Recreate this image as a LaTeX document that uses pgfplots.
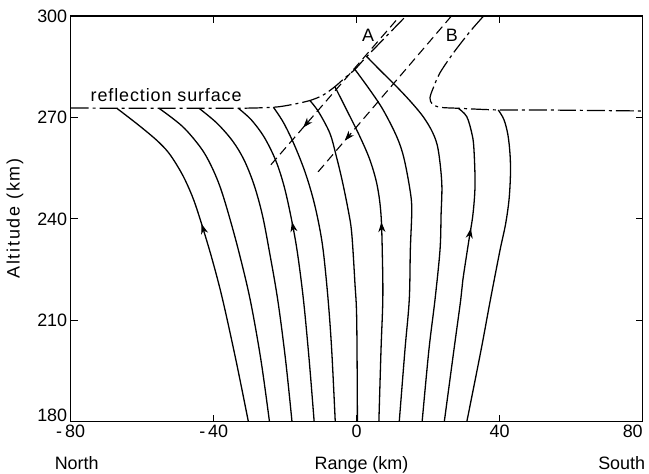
\documentclass[border=0pt]{standalone}
\usepackage{fontspec}
\setmainfont{Liberation Sans}
\usepackage{pgfplots}
\pgfplotsset{compat=1.18}
\usetikzlibrary{decorations.markings,arrows.meta}
\begin{document}
\begin{tikzpicture}[x=1bp,y=1bp]
\useasboundingbox (0,0) rectangle (649,474);
\begin{axis}[
  at={(70.7bp,52.3bp)}, anchor=south west,
  scale only axis, width=572bp, height=405.7bp,
  xmin=-80, xmax=80, ymin=180, ymax=300,
  xtick={-80,-40,0,40,80},
  xticklabels={-\,80,-\,40,0,40,\makebox[0pt][r]{80}},
  ytick={180,210,240,270,300},
  yticklabels={\raisebox{0pt}[0pt][0pt]{180},210,240,270,300},
  tick align=inside,
  major tick length=7bp,
  every tick/.style={black, line width=1.1bp},
  axis line style={line width=1.3bp},
  tick label style={font=\fontsize{18}{20}\selectfont},
  /pgf/number format/assume math mode=true,
  ray/.style={black, line width=1.3bp, smooth, tension=0.55},
  arr/.style={postaction={decorate}, decoration={markings, mark=at position #1 with {\arrowreversed{Stealth[length=10bp,width=7bp,inset=3bp]}}}},
  surf/.style={black, line width=1.2bp, smooth, tension=0.5, dash pattern=on 18bp off 4bp on 3bp off 4bp},
  dline/.style={black, line width=1.1bp, dash pattern=on 9bp off 5bp},
]
% reflection surface (left part)
\addplot[surf] coordinates {(-80,272.8) (-67.1,272.7) (-55.3,272.7) (-44.1,272.7) (-33.1,272.7) (-23.3,273.0) (-18.1,273.8) (-13.1,275.0) (-9.4,276.6) (-6.1,279.1) (-3.3,281.7) (-0.5,284.2) (2.8,288.0) (13.8,300)};
% reflection surface (right part)
\addplot[surf] coordinates {(35.5,300) (31.7,295.4) (27.0,289.0) (23.3,283.2) (21.4,278.7) (20.5,275.8) (21.1,274.0) (23.3,273.0) (28.4,272.7) (39.6,272.2) (51.3,272.2) (80,271.9)};
% rays
\addplot[ray, arr=0.42] coordinates {(-67.1,272.7) (-61.1,267.8) (-56.0,263.3) (-52.8,259.8) (-50.3,255.9) (-48.0,251.5) (-45.6,245.6) (-43.3,238.2) (-40.4,227.9) (-37.5,216.1) (-33.8,198.3) (-30.3,180)};
\addplot[ray] coordinates {(-55.3,272.7) (-48.7,267.3) (-43.6,261.0) (-40.8,255.9) (-38.4,250.0) (-36.2,242.7) (-33.1,230.8) (-29.8,216.1) (-26.8,198.3) (-24.4,180)};
\addplot[ray] coordinates {(-44.1,272.7) (-39.1,268.3) (-34.7,263.0) (-31.5,257.4) (-28.7,250.0) (-26.4,241.2) (-24.5,230.8) (-22.1,216.1) (-19.9,198.3) (-18.1,180)};
\addplot[ray, arr=0.39] coordinates {(-33.1,272.7) (-29.5,269.3) (-25.9,264.2) (-22.7,257.4) (-20.4,250.0) (-18.5,241.2) (-16.7,230.8) (-14.9,216.1) (-13.3,198.3) (-11.9,180)};
\addplot[ray] coordinates {(-23.3,273.0) (-20.5,268.5) (-17.5,262) (-14.5,254) (-12.2,246) (-10.5,238) (-9.3,230) (-8.0,216.1) (-7.0,201.3) (-6.0,180)};
\addplot[ray] coordinates {(-13.1,275.0) (-10.7,271.7) (-7.5,265.3) (-5.8,258.9) (-4.1,251.5) (-2.4,242.7) (-1.4,235.8) (-0.5,221.0) (0,210.1) (0.2,180)};
\addplot[ray, arr=0.42] coordinates {(-6.1,279.1) (-2.8,272.2) (0.9,264.3) (3.7,257.4) (5.7,250.0) (6.8,241.2) (7.2,227.9) (7.3,216.1) (6.8,201.3) (6.2,180)};
\addplot[ray] coordinates {(-0.5,284.2) (3.7,278.1) (7.4,272.2) (11.2,264.3) (13.2,258.0) (14.9,248.6) (15.4,242.7) (15.0,230.8) (14.7,216.1) (13.5,201.3) (11.9,180)};
\addplot[ray] coordinates {(2.8,288.0) (6.5,284.0) (10.7,279.6) (14.9,274.9) (18.6,270.2) (21.3,265.4) (22.8,260.4) (23.8,250.5) (23.6,241.2) (23.3,230.8) (21.9,216.1) (20.2,201.3) (18.3,180)};
\addplot[ray, arr=0.39] coordinates {(28.4,272.7) (30.8,270.2) (32.3,264.8) (32.8,260.4) (33.1,250.0) (32.5,241.2) (31.4,233.8) (29.7,222.0) (29.1,216.1) (27.2,201.3) (24.5,180)};
\addplot[ray] coordinates {(39.6,272.2) (41.2,269.3) (42.3,264.8) (42.9,258.9) (43.0,253.0) (42.6,245.6) (41.6,238.2) (40.1,230.8) (37.4,216.1) (34.8,201.3) (30.8,180)};
% lines A and B
\addplot[dline, arr=0.25] coordinates {(-24.0,256.0) (12.1,300)};
\addplot[dline, arr=0.2] coordinates {(-10.8,253.9) (26.5,300)};
\node[font=\fontsize{18}{20}\selectfont] at (axis cs:3.2,294.4) {A};
\node[font=\fontsize{18}{20}\selectfont] at (axis cs:26.6,294.4) {B};
\node[font=\fontsize{18}{20}\selectfont\addfontfeature{LetterSpace=5}] at (axis cs:-53.3,276.6) {reflection surface};
\end{axis}
\node[rotate=90, font=\fontsize{18}{20}\selectfont\addfontfeature{LetterSpace=10}] at (15,255.5) {Altitude (km)};
\node[anchor=base, font=\fontsize{18}{20}\selectfont] at (76.7,4) {North};
\node[anchor=base, font=\fontsize{18}{20}\selectfont] at (361.5,4) {Range (km)};
\node[anchor=base, font=\fontsize{18}{20}\selectfont] at (621.7,4) {South};
\end{tikzpicture}
\end{document}
